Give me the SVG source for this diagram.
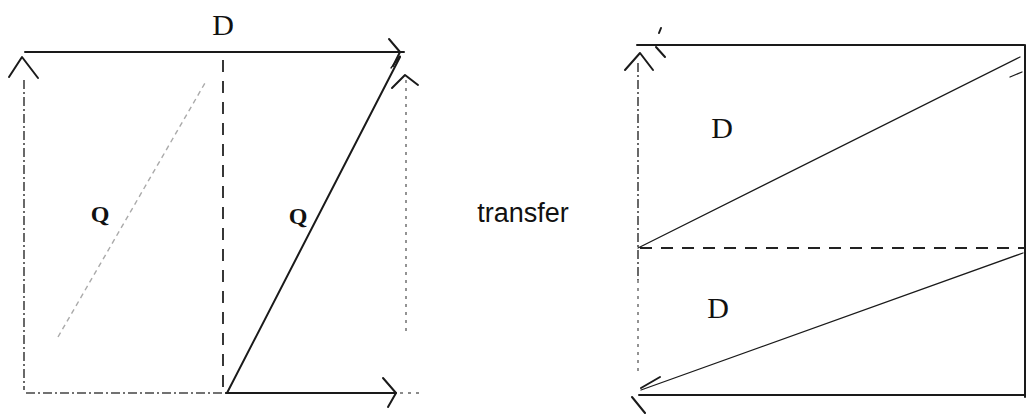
<svg xmlns="http://www.w3.org/2000/svg" width="1027" height="414" viewBox="0 0 1027 414">
<style>
.ln{stroke:#1a1a1a;stroke-width:2;fill:none;stroke-linecap:round;stroke-linejoin:round}
.thin{stroke:#1a1a1a;stroke-width:1.3;fill:none;stroke-linecap:round}
.dash{stroke:#222;stroke-width:1.8;fill:none;stroke-dasharray:12 9}
.dd{stroke:#444;stroke-width:1.6;fill:none;stroke-dasharray:9 3 2 3}
.dot{stroke:#666;stroke-width:1.4;fill:none;stroke-dasharray:3 5}
.faint{stroke:#aaa;stroke-width:1.4;fill:none;stroke-dasharray:5 4}
.lbl{font-family:"Liberation Serif",serif;fill:#111}
.txt{font-family:"Liberation Sans",sans-serif;fill:#111}
</style>
<rect width="1027" height="414" fill="#fff"/>
<g id="left-figure">
  <line class="ln" x1="25" y1="52" x2="404" y2="52"/>
  <line class="dd" x1="24" y1="80" x2="24" y2="390"/>
  <line class="dd" x1="26" y1="393" x2="226" y2="393"/>
  <line class="ln" x1="226" y1="393" x2="396" y2="393"/>
  <line class="dot" x1="400" y1="393" x2="424" y2="393"/>
  <line class="dot" x1="406" y1="80" x2="406" y2="335"/>
  <line class="dash" x1="223" y1="60" x2="223" y2="390"/>
  <line class="ln" x1="227" y1="393" x2="400" y2="57"/>
  <line class="thin" x1="391" y1="68" x2="400" y2="56"/>
  <line class="faint" x1="58" y1="337" x2="205" y2="83"/>
  <polyline class="ln" points="9,77 22,57 38,78"/>
  <polyline class="ln" points="389,39 400,52 393,66"/>
  <polyline class="ln" points="392,88 405,75 418,85"/>
  <polyline class="ln" points="383,378 396,393 388,407"/>
  <text class="lbl" x="223" y="35" font-size="30" text-anchor="middle">D</text>
  <text class="lbl" x="100" y="222" font-size="24" font-weight="bold" text-anchor="middle">Q</text>
  <text class="lbl" x="298" y="224" font-size="24" font-weight="bold" text-anchor="middle">Q</text>
</g>
<g id="label-transfer">
  <text class="txt" x="523" y="222" font-size="27" text-anchor="middle">transfer</text>
</g>
<g id="right-figure">
  <line class="ln" x1="637" y1="45" x2="1024" y2="45"/>
  <line class="ln" x1="1025" y1="45" x2="1025" y2="397"/>
  <line class="ln" x1="639" y1="395" x2="1025" y2="395"/>
  <line class="dd" x1="638" y1="63" x2="638" y2="280"/>
  <line class="dot" x1="638" y1="280" x2="638" y2="372"/>
  <line class="dash" x1="640" y1="248" x2="1025" y2="248"/>
  <line class="thin" x1="638" y1="248" x2="1020" y2="57"/>
  <line class="thin" x1="1023" y1="253" x2="641" y2="390"/>
  <line class="thin" x1="1010" y1="77" x2="1022" y2="72"/>
  <polyline class="ln" points="625,70 640,53 653,70"/>
  <line class="ln" x1="656" y1="47" x2="665" y2="57"/>
  <line class="ln" x1="659" y1="33" x2="661" y2="28"/>
  <polyline class="ln" points="660,377 641,388"/>
  <line class="ln" x1="632" y1="397" x2="645" y2="413"/>
  <text class="lbl" x="722" y="138" font-size="30" text-anchor="middle">D</text>
  <text class="lbl" x="718" y="318" font-size="30" text-anchor="middle">D</text>
</g>
</svg>
